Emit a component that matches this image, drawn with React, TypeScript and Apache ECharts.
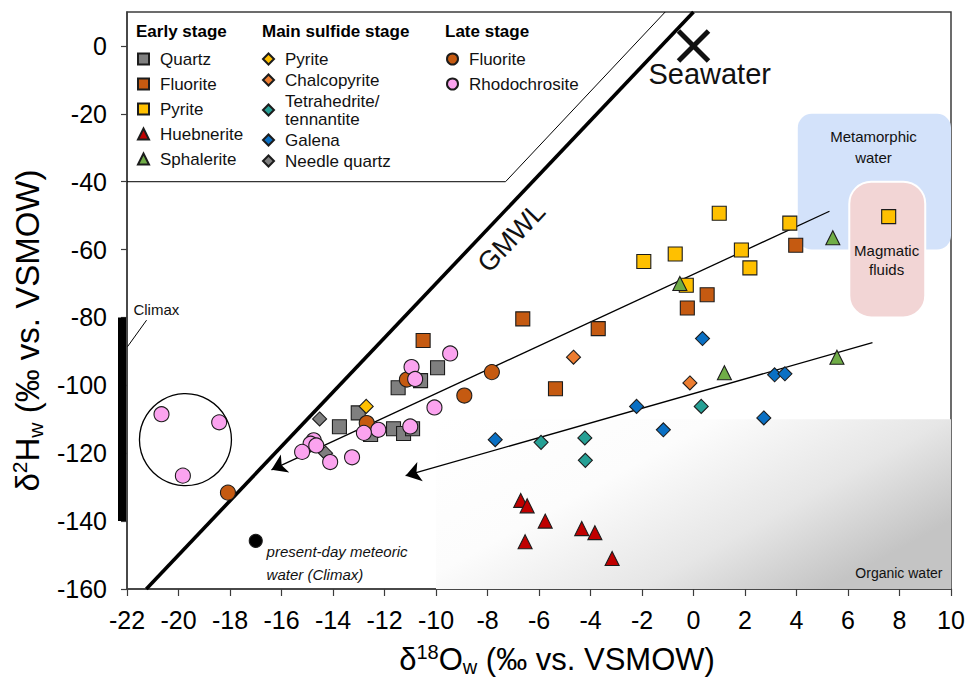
import React, { useEffect, useRef } from 'react';
import * as echarts from 'echarts';

const FONT = '"Liberation Sans", Arial, Helvetica, sans-serif';

// ---- axes ----
const X_MIN = -22;
const X_MAX = 10;
const X_INTERVAL = 2;
const Y_MIN = -160;
const Y_MAX = 10;
const Y_TICKS = [-160, -140, -120, -100, -80, -60, -40, -20, 0];

// ---- Early stage ----
const QUARTZ_EARLY = [
  [-9.94, -94.8], [-10.6, -98.6], [-11.47, -100.7], [-13.02, -108.1], [-13.75, -112.2],
  [-12.54, -114.5], [-11.65, -112.8], [-11.26, -114.2], [-10.91, -112.8],
];
const FLUORITE_EARLY = [
  [-10.5, -86.8], [-6.63, -80.4], [-3.7, -83.3], [-5.36, -101.0], [-0.24, -77.2], [0.53, -73.3], [3.97, -58.7],
];
const PYRITE_EARLY = [
  [1.0, -49.3], [-0.71, -61.3], [-1.93, -63.5], [1.86, -60.1], [2.19, -65.4], [3.74, -52.2], [-0.28, -70.5], [7.58, -50.3],
];
const HUEBNERITE = [
  [-6.71, -133.9], [-6.46, -135.5], [-5.76, -140.0], [-6.54, -146.1], [-4.34, -142.2], [-3.83, -143.4], [-3.16, -151.0],
];
const SPHALERITE = [[-0.53, -70.0], [1.2, -96.3], [5.57, -91.7], [5.41, -56.5]];

// ---- Main sulfide stage ----
const PYRITE_MAIN = [[-12.71, -106.2]];
const CHALCOPYRITE = [[-4.66, -91.7], [-0.14, -99.3]];
const TETRAHEDRITE = [[-5.92, -116.8], [-4.22, -115.5], [-4.2, -122.1], [0.3, -106.2]];
const GALENA = [
  [-7.7, -116.0], [-2.21, -106.2], [-1.17, -113.1], [2.73, -109.6], [0.35, -86.2], [3.15, -96.9], [3.55, -96.6],
];
const NEEDLE_QUARTZ = [[-14.52, -109.9], [-14.29, -120.0]];

// ---- Late stage ----
const FLUORITE_LATE = [[-8.9, -103.0], [-12.69, -111.1], [-11.13, -98.3], [-18.08, -131.6], [-7.83, -96.1]];
const RHODOCHROSITE = [
  [-9.45, -90.6], [-10.95, -94.6], [-10.81, -98.1], [-10.06, -106.5], [-11.0, -112.1], [-12.24, -113.1],
  [-12.8, -114.0], [-13.26, -121.2], [-14.11, -122.6], [-14.75, -116.2], [-14.87, -117.2], [-14.65, -117.7],
  [-15.2, -119.6], [-20.66, -108.5], [-18.42, -110.9], [-19.83, -126.6],
];

// ---- reference values / lines ----
const METEORIC_CLIMAX = [[-17.0, -145.8]];
const SEAWATER = [0, 0];
const GMWL = [[-21.25, -160], [0, 10]];
const LEGEND_FRAME = [[-22, -40], [-7.3, -40], [-1.1, 10]];
const TREND_UPPER = [[5.28, -48.7], [-16.39, -124.9]];
const TREND_LOWER = [[6.95, -87.4], [-11.18, -126.6]];
const CLIMAX_RANGE = [-80, -140];
const CLIMAX_LEADER = [[-21.24, -80.8], [-21.98, -88.6]];
const OUTLIER_RING = [-19.73, -116.0];

// regions: [x0, yTop, x1, yBottom]
const REGION_METAMORPHIC = [4.05, -20, 10, -60];
const REGION_MAGMATIC = [6.05, -40, 9.0, -80];
const REGION_ORGANIC = [-10, -110, 10, -160];

const LEGEND_LABEL: Record<string, string> = {
  'Fluorite (early)': 'Fluorite',
  'Pyrite (early)': 'Pyrite',
  'Pyrite (main)': 'Pyrite',
  'Fluorite (late)': 'Fluorite',
  'Tetrahedrite/tennantite': 'Tetrahedrite/\ntennantite',
};

const NOTES = [
  { text: 'Seawater', x: -1.75, y: -8.3, size: 29, align: 'left' },
  { text: 'GMWL', x: -7.07, y: -56.4, size: 27, align: 'center', rot: 46.5 },
  { text: 'Metamorphic\nwater', x: 6.99, y: -29.7, size: 15, align: 'center', lh: 21 },
  { text: 'Magmatic\nfluids', x: 7.5, y: -63.0, size: 15, align: 'center', lh: 19 },
  { text: 'Organic water', x: 9.67, y: -155.3, size: 14, align: 'right' },
  { text: 'present-day meteoric\nwater (Climax)', x: -16.58, y: -152.3, size: 15, align: 'left', lh: 23, italic: true },
  { text: 'Climax', x: -21.75, y: -77.6, size: 15, align: 'left' },
];

const scatter = (name: string, data: number[][], symbol: string, color: string, size = 14, z = 5) => ({
  type: 'scatter',
  name,
  data,
  symbol,
  symbolSize: size,
  z,
  silent: true,
  itemStyle: { color, borderColor: '#1c1c1c', borderWidth: 1.1, opacity: 1 },
  emphasis: { disabled: true },
});

const titleRich = (size: number, small: number) => ({
  b: { fontSize: size, fontFamily: FONT, color: '#000', lineHeight: size + 4 },
  sup: { fontSize: small, fontFamily: FONT, color: '#000', verticalAlign: 'top', lineHeight: small },
  sub: { fontSize: small, fontFamily: FONT, color: '#000', verticalAlign: 'bottom', lineHeight: small - 5 },
});

function buildOption() {
  const legendBase = {
    orient: 'vertical',
    itemWidth: 11,
    itemHeight: 11,
    padding: 0,
    selectedMode: false,
    formatter: (n: string) => LEGEND_LABEL[n] ?? n,
    textStyle: { fontSize: 17, fontFamily: FONT, color: '#111', lineHeight: 18, padding: [0, 0, 0, 6] },
  };
  const organicFill = new echarts.graphic.LinearGradient(0, 0, 1, 0.6, [
    { offset: 0, color: '#ffffff' },
    { offset: 0.4, color: '#fcfcfc' },
    { offset: 0.73, color: '#e6e6e6' },
    { offset: 1, color: '#c4c4c4' },
  ]);
  const regions = [
    { r: REGION_ORGANIC, fill: organicFill, stroke: 'none', lw: 0, radius: 0 },
    { r: REGION_METAMORPHIC, fill: '#d3e2fa', stroke: 'none', lw: 0, radius: 14 },
    { r: REGION_MAGMATIC, fill: '#f2d5d5', stroke: '#ffffff', lw: 2, radius: 22 },
  ];

  return {
    animation: false,
    backgroundColor: '#ffffff',
    grid: {
      left: 127, right: 17, top: 12, bottom: 96,
      show: true, borderColor: '#3c3c3c', borderWidth: 1.5,
      containLabel: false, outerBoundsMode: 'none',
    },
    xAxis: {
      type: 'value', min: X_MIN, max: X_MAX, interval: X_INTERVAL,
      axisLine: { show: true, onZero: false, lineStyle: { color: '#3c3c3c', width: 1.5 } },
      axisTick: { show: true, length: 7, lineStyle: { color: '#3c3c3c', width: 1.2 } },
      axisLabel: { fontSize: 25, fontFamily: FONT, color: '#000', margin: 18 },
      splitLine: { show: false },
      name: '{b|δ}{sup|18}{b|O}{sub|w}{b| (‰ vs. VSMOW)}',
      nameLocation: 'middle', nameGap: 53,
      nameTextStyle: { rich: titleRich(31, 20), padding: [0, 0, 0, 36] },
    },
    yAxis: {
      type: 'value', min: Y_MIN, max: Y_MAX,
      axisLine: { show: true, onZero: false, lineStyle: { color: '#3c3c3c', width: 1.5 } },
      axisTick: { show: true, length: 6, customValues: Y_TICKS, lineStyle: { color: '#3c3c3c', width: 1.2 } },
      axisLabel: { fontSize: 25, fontFamily: FONT, color: '#000', margin: 20, customValues: Y_TICKS },
      splitLine: { show: false },
      name: '{b|δ}{sup|2}{b|H}{sub|w}{b| (‰ vs. VSMOW)}',
      nameLocation: 'middle', nameGap: 75,
      nameTextStyle: { rich: titleRich(33, 21), padding: [0, 60, 0, 0] },
    },
    legend: [
      { ...legendBase, left: 137, top: 50, itemGap: 7,
        data: ['Quartz', 'Fluorite (early)', 'Pyrite (early)', 'Huebnerite', 'Sphalerite'] },
      { ...legendBase, left: 262, top: 50, itemGap: 3,
        data: ['Pyrite (main)', 'Chalcopyrite', 'Tetrahedrite/tennantite', 'Galena', 'Needle quartz'] },
      { ...legendBase, left: 446, top: 50, itemGap: 7,
        data: ['Fluorite (late)', 'Rhodochrosite'] },
    ],
    graphic: [
      { type: 'text', left: 136, top: 23, style: { text: 'Early stage', font: `bold 17px ${FONT}`, fill: '#000' } },
      { type: 'text', left: 262, top: 23, style: { text: 'Main sulfide stage', font: `bold 17px ${FONT}`, fill: '#000' } },
      { type: 'text', left: 445, top: 23, style: { text: 'Late stage', font: `bold 17px ${FONT}`, fill: '#000' } },
    ],
    series: [
      {
        type: 'custom', name: 'regions', z: 1, silent: true,
        data: regions.map((g) => g.r),
        renderItem: (params: any, api: any) => {
          const g = regions[params.dataIndex];
          const p0 = api.coord([api.value(0), api.value(1)]);
          const p1 = api.coord([api.value(2), api.value(3)]);
          return {
            type: 'rect',
            shape: { x: p0[0], y: p0[1], width: p1[0] - p0[0], height: p1[1] - p0[1], r: g.radius },
            style: { fill: g.fill, stroke: g.stroke, lineWidth: g.lw },
          };
        },
      },
      {
        type: 'line', name: 'legend frame', data: LEGEND_FRAME, symbol: 'none', z: 2, silent: true,
        lineStyle: { color: '#000', width: 1 },
      },
      {
        type: 'line', name: 'GMWL', data: GMWL, symbol: 'none', z: 3, silent: true,
        lineStyle: { color: '#000', width: 3.6 },
      },
      {
        type: 'line', name: 'trends', data: [], symbol: 'none', z: 4, silent: true,
        markLine: {
          silent: true, symbol: ['none', 'arrow'], symbolSize: 15,
          label: { show: false },
          lineStyle: { color: '#000', width: 1.3, type: 'solid' },
          emphasis: { disabled: true },
          data: [
            [{ coord: TREND_UPPER[0] }, { coord: TREND_UPPER[1] }],
            [{ coord: TREND_LOWER[0] }, { coord: TREND_LOWER[1] }],
          ],
        },
      },
      scatter('Quartz', QUARTZ_EARLY, 'rect', '#7f7f7f'),
      scatter('Fluorite (early)', FLUORITE_EARLY, 'rect', '#c55a11'),
      scatter('Pyrite (early)', PYRITE_EARLY, 'rect', '#ffc000'),
      scatter('Huebnerite', HUEBNERITE, 'triangle', '#c00000'),
      scatter('Sphalerite', SPHALERITE, 'triangle', '#70ad47'),
      scatter('Pyrite (main)', PYRITE_MAIN, 'diamond', '#ffc000'),
      scatter('Chalcopyrite', CHALCOPYRITE, 'diamond', '#ed7d31'),
      scatter('Tetrahedrite/tennantite', TETRAHEDRITE, 'diamond', '#26a095'),
      scatter('Galena', GALENA, 'diamond', '#0a70c4'),
      scatter('Needle quartz', NEEDLE_QUARTZ, 'diamond', '#7f7f7f'),
      scatter('Fluorite (late)', FLUORITE_LATE, 'circle', '#c55a11', 15),
      scatter('Rhodochrosite', RHODOCHROSITE, 'circle', '#fba3ef', 15),
      scatter('Present-day meteoric water', METEORIC_CLIMAX, 'circle', '#000000', 13),
      {
        type: 'custom', name: 'annotations', z: 8, silent: true,
        data: [SEAWATER],
        renderItem: (_params: any, api: any) => {
          const c = (x: number, y: number) => api.coord([x, y]);
          const children: any[] = [];
          const b0 = c(X_MIN, CLIMAX_RANGE[0]);
          const b1 = c(X_MIN, CLIMAX_RANGE[1]);
          children.push({ type: 'rect', shape: { x: b0[0] - 9, y: b0[1], width: 8, height: b1[1] - b0[1] }, style: { fill: '#000' } });
          const l0 = c(CLIMAX_LEADER[0][0], CLIMAX_LEADER[0][1]);
          const l1 = c(CLIMAX_LEADER[1][0], CLIMAX_LEADER[1][1]);
          children.push({ type: 'line', shape: { x1: l0[0], y1: l0[1], x2: l1[0], y2: l1[1] }, style: { stroke: '#000', lineWidth: 1 } });
          const cc = c(OUTLIER_RING[0], OUTLIER_RING[1]);
          children.push({ type: 'circle', shape: { cx: cc[0], cy: cc[1], r: 46 }, style: { fill: 'none', stroke: '#000', lineWidth: 1.3 } });
          const s = c(api.value(0), api.value(1));
          children.push({ type: 'line', shape: { x1: s[0] - 15, y1: s[1] - 15, x2: s[0] + 15, y2: s[1] + 15 }, style: { stroke: '#111', lineWidth: 5 } });
          children.push({ type: 'line', shape: { x1: s[0] - 15, y1: s[1] + 15, x2: s[0] + 15, y2: s[1] - 15 }, style: { stroke: '#111', lineWidth: 5 } });
          for (const t of NOTES) {
            const p = c(t.x, t.y);
            children.push({
              type: 'text', x: p[0], y: p[1], rotation: ((t as any).rot || 0) * Math.PI / 180,
              style: {
                text: t.text, fontSize: t.size, fontFamily: FONT, fill: '#111',
                fontStyle: (t as any).italic ? 'italic' : 'normal',
                align: t.align, verticalAlign: 'middle', lineHeight: (t as any).lh || t.size + 4,
              },
            });
          }
          return { type: 'group', children };
        },
      },
    ],
  };
}

export default function App() {
  const ref = useRef<HTMLDivElement>(null);
  useEffect(() => {
    if (!ref.current) return;
    const chart = echarts.init(ref.current, null, { renderer: 'svg' });
    chart.setOption(buildOption() as any);
    return () => chart.dispose();
  }, []);
  return (
    <div
      ref={ref}
      style={{ position: 'fixed', left: 0, top: 0, width: 968, height: 685, background: '#fff' }}
    />
  );
}
